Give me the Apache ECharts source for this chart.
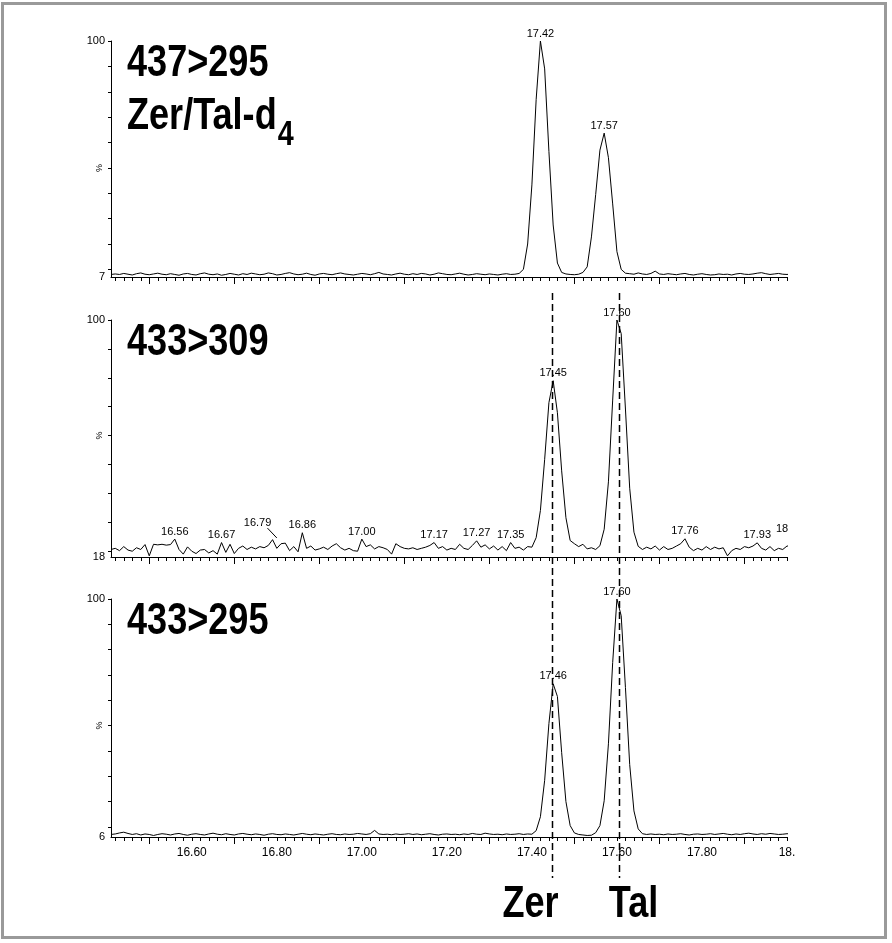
<!DOCTYPE html>
<html><head><meta charset="utf-8">
<script src="https://cdn.jsdelivr.net/npm/echarts@6/dist/echarts.min.js"></script>
<style>html,body{margin:0;padding:0;background:#fff}#c{width:892px;height:943px}</style>
</head><body><div id="c"></div>
<script>
// ---- retention-time grid (min) ----
const times = [16.41,
16.42,16.43,16.44,16.45,16.46,16.47,16.48,16.49,16.50,16.51,
16.52,16.53,16.54,16.55,16.56,16.57,16.58,16.59,16.60,16.61,
16.62,16.63,16.64,16.65,16.66,16.67,16.68,16.69,16.70,16.71,
16.72,16.73,16.74,16.75,16.76,16.77,16.78,16.79,16.80,16.81,
16.82,16.83,16.84,16.85,16.86,16.87,16.88,16.89,16.90,16.91,
16.92,16.93,16.94,16.95,16.96,16.97,16.98,16.99,17.00,17.01,
17.02,17.03,17.04,17.05,17.06,17.07,17.08,17.09,17.10,17.11,
17.12,17.13,17.14,17.15,17.16,17.17,17.18,17.19,17.20,17.21,
17.22,17.23,17.24,17.25,17.26,17.27,17.28,17.29,17.30,17.31,
17.32,17.33,17.34,17.35,17.36,17.37,17.38,17.39,17.40,17.41,
17.42,17.43,17.44,17.45,17.46,17.47,17.48,17.49,17.50,17.51,
17.52,17.53,17.54,17.55,17.56,17.57,17.58,17.59,17.60,17.61,
17.62,17.63,17.64,17.65,17.66,17.67,17.68,17.69,17.70,17.71,
17.72,17.73,17.74,17.75,17.76,17.77,17.78,17.79,17.80,17.81,
17.82,17.83,17.84,17.85,17.86,17.87,17.88,17.89,17.90,17.91,
17.92,17.93,17.94,17.95,17.96,17.97,17.98,17.99,18.00,18.01];

// ---- MRM 437>295 (Zer/Tal-d4), % ----
const trace437_295 = [8.0,
8.2,8.0,8.4,8.1,7.8,8.3,8.6,8.1,7.9,8.2,
8.5,8.1,7.9,8.3,8.0,7.7,8.2,8.4,8.0,7.8,
8.3,8.6,8.1,7.9,8.2,7.7,8.0,8.4,8.1,7.8,
8.3,8.0,8.5,8.2,7.9,8.1,8.6,8.3,7.8,8.0,
8.4,8.7,8.2,7.9,8.1,8.5,8.0,7.7,8.2,8.4,
8.1,7.9,8.3,8.6,8.2,8.0,7.8,8.1,8.4,8.2,
7.9,8.3,8.8,8.2,8.0,7.8,8.2,8.5,8.1,7.9,
8.3,8.0,8.4,8.2,7.8,8.1,8.6,8.3,8.0,7.9,
8.2,8.5,8.1,7.8,8.0,8.3,8.1,7.9,8.2,8.0,
7.8,8.1,8.3,8.0,8.1,8.4,10.0,20.0,43.3,77.0,
100,89.0,56.5,27.5,12.5,8.8,8.2,8.0,7.9,8.1,
8.8,11.0,22.8,39.5,57.0,63.7,54.0,35.8,17.0,10.0,
8.5,8.3,8.1,8.6,8.2,8.0,8.4,9.3,8.2,8.0,
8.3,8.1,7.9,8.2,8.4,8.0,7.8,8.1,8.3,8.0,
7.8,7.9,8.2,8.0,8.1,7.8,8.2,8.4,8.1,8.0,
8.2,8.5,8.7,8.3,8.0,8.2,8.4,8.1,8.0,8.2];

// ---- MRM 433>309, % ----
const trace433_309 = [20.6,
21.0,20.2,21.6,20.4,20.0,21.2,20.6,22.3,18.4,22.4,
22.2,22.4,22.1,22.3,24.2,20.6,19.0,21.5,20.0,19.2,
20.4,20.6,19.4,20.2,19.0,23.0,19.6,22.4,19.2,21.0,
21.8,20.6,21.4,20.8,21.6,21.2,22.0,24.0,21.0,22.6,
22.8,20.2,21.6,19.8,26.4,21.0,21.8,20.4,20.8,21.4,
20.6,21.8,22.6,21.2,20.4,21.0,20.2,20.0,24.2,21.6,
22.2,20.8,21.6,21.2,20.6,19.0,22.6,21.6,21.0,20.8,
21.2,20.6,21.0,21.4,22.0,23.0,21.0,21.6,20.4,21.0,
20.6,22.4,21.0,20.6,22.0,23.6,21.4,22.2,20.8,21.8,
20.4,21.6,20.2,23.0,21.0,21.4,20.4,21.6,21.4,24.7,
34.1,51.8,71.4,79.0,67.9,47.8,31.6,23.7,22.6,21.6,
22.4,20.8,21.2,20.6,21.9,27.6,44.0,72.3,100.0,95.3,
69.2,41.8,26.6,21.7,20.6,21.4,20.8,21.8,20.4,21.6,
20.6,21.0,21.8,22.6,24.3,21.4,20.2,21.0,20.4,21.6,
20.6,21.4,20.8,21.2,18.4,20.2,21.0,20.6,21.6,21.2,
21.8,22.9,21.0,20.4,21.6,20.2,21.0,20.6,21.8,21.8];

// ---- MRM 433>295, % ----
const trace433_295 = [7.0,
7.2,7.6,7.9,7.4,7.0,7.3,6.8,7.2,7.0,6.6,
7.0,7.3,7.1,6.8,7.2,7.4,7.0,6.7,7.1,7.3,
7.0,6.8,7.2,7.5,7.1,6.9,7.3,7.0,6.8,7.2,
7.4,7.1,6.9,7.2,7.0,6.7,7.1,7.3,7.0,6.9,
7.2,7.0,6.8,7.1,7.4,7.1,6.9,7.2,7.0,6.8,
7.1,7.3,7.0,6.9,7.2,7.0,7.1,7.4,7.2,7.0,
7.3,8.6,7.2,7.0,7.1,6.9,7.2,7.0,7.1,7.3,
7.0,7.2,6.9,7.1,7.3,7.0,6.8,7.1,7.2,7.0,
7.1,6.9,7.2,7.0,7.4,7.1,7.0,7.5,7.2,7.0,
7.1,6.9,7.2,7.0,7.1,7.3,7.0,7.2,7.1,8.5,
14.0,28.4,50.8,66.5,61.5,39.3,20.0,10.5,7.6,7.0,
6.8,6.6,6.7,7.7,10.5,20.3,42.8,74.9,100,93.4,
65.0,34.6,16.3,9.2,7.3,7.0,7.2,7.0,7.1,6.9,
7.2,7.0,7.1,7.3,7.0,6.8,7.1,7.2,7.0,7.1,
7.3,7.0,7.2,7.4,7.1,6.9,7.2,7.0,7.3,7.5,
7.2,7.0,7.3,7.1,7.4,7.2,7.0,7.1,7.3,7.2];

// ---- peak annotations [time, %, text] ----
const peaks437_295 = [[17.42,100,'17.42'],[17.57,63.7,'17.57']];
const peaks433_309 = [[16.56,24.2,'16.56'],[16.67,23.0,'16.67'],[16.79,24.0,'16.79'],[16.86,26.4,'16.86'],
  [17.00,24.2,'17.00'],[17.17,23.0,'17.17'],[17.27,23.6,'17.27'],[17.35,23.0,'17.35'],
  [17.45,79.0,'17.45'],[17.60,100,'17.60'],[17.76,24.3,'17.76'],[17.93,22.9,'17.93'],[18.00,21.8,'18']];
const peaks433_295 = [[17.45,66.5,'17.46'],[17.60,100,'17.60']];
const leader1679 = [[16.778,28.0],[16.80,24.6]];

// ---- axes ----
const xMin = 16.41, xMax = 18.00;
const xLabelValues = [16.6,16.8,17.0,17.2,17.4,17.6,17.8,18.0];
const xMajorTicks = [16.5,16.7,16.9,17.1,17.3,17.5,17.7,17.9];
const xMinorTicks = [16.42,16.44,16.46,16.48,16.50,16.52,16.54,16.56,16.58,16.60,
16.62,16.64,16.66,16.68,16.70,16.72,16.74,16.76,16.78,16.80,
16.82,16.84,16.86,16.88,16.90,16.92,16.94,16.96,16.98,17.00,
17.02,17.04,17.06,17.08,17.10,17.12,17.14,17.16,17.18,17.20,
17.22,17.24,17.26,17.28,17.30,17.32,17.34,17.36,17.38,17.40,
17.42,17.44,17.46,17.48,17.50,17.52,17.54,17.56,17.58,17.60,
17.62,17.64,17.66,17.68,17.70,17.72,17.74,17.76,17.78,17.80,
17.82,17.84,17.86,17.88,17.90,17.92,17.94,17.96,17.98,18.00];
const yMins = [7, 18, 6];
const yTicks = [[10,20,30,40,50,60,70,80,90,100],[20,30,40,50,60,70,80,90,100],[10,20,30,40,50,60,70,80,90,100]];
const yPercentAt = [50, 60, 50];
const panelTitles = ['437>295', '433>309', '433>295'];
const subTitleMain = 'Zer/Tal-d', subTitleSub = '4';
const markerTimes = [17.448, 17.605];
const markerNames = ['Zer', 'Tal'];

// ---- fonts ----
const BIG = '"Liberation Sans", Arial, sans-serif';
const SMALL = '"Liberation Sans", Arial, sans-serif';
const BIGSIZE = 44, SUBSIZE = 35, NARROW = 0.82;

const grids = [
  {left: 111, right: 105, top: 41, height: 236},
  {left: 111, right: 105, top: 320, height: 237},
  {left: 111, right: 105, top: 599, height: 238}
];
const traces = [trace437_295, trace433_309, trace433_295];
const peakSets = [peaks437_295, peaks433_309, peaks433_295];

const xAxes = [], yAxes = [], series = [];
grids.forEach((g, k) => {
  xAxes.push({
    gridIndex: k, type: 'value', min: xMin, max: xMax, position: 'bottom',
    axisLine: {show: true, onZero: false, lineStyle: {color: '#000', width: 1}},
    axisTick: {show: true, customValues: xMinorTicks, length: 4, lineStyle: {color: '#000', width: 1}},
    axisLabel: {show: k === 2, customValues: xLabelValues, color: '#000', fontSize: 12, fontFamily: SMALL, margin: 10,
      formatter: v => Math.abs(v - 18) < 1e-6 ? '18.' : v.toFixed(2)},
    splitLine: {show: false}
  });
  xAxes.push({
    gridIndex: k, type: 'value', min: xMin, max: xMax, position: 'bottom',
    axisLine: {show: false, onZero: false},
    axisTick: {show: true, customValues: xMajorTicks, length: 7, lineStyle: {color: '#000', width: 1}},
    axisLabel: {show: false},
    splitLine: {show: false}
  });
  yAxes.push({
    gridIndex: k, type: 'value', min: yMins[k], max: 100,
    axisLine: {show: true, lineStyle: {color: '#000', width: 1}},
    axisTick: {show: true, customValues: yTicks[k], length: 3, lineStyle: {color: '#000', width: 1}},
    axisLabel: {show: true, customValues: [yMins[k], 100], color: '#000', fontSize: 11, fontFamily: SMALL, margin: 6,
      formatter: v => String(v)},
    splitLine: {show: false}
  });
  const s = {
    type: 'line', xAxisIndex: 2 * k, yAxisIndex: k,
    data: times.map((t, i) => [t, traces[k][i]]),
    showSymbol: false, symbol: 'none', clip: true, animation: false, silent: true,
    lineStyle: {color: '#000', width: 1},
    markPoint: {
      symbol: 'circle', symbolSize: 0, silent: true, animation: false,
      itemStyle: {color: 'rgba(0,0,0,0)'},
      label: {show: true, position: 'top', distance: 2, color: '#000', fontSize: 11, fontFamily: SMALL,
        formatter: p => p.name},
      data: peakSets[k].map(p => {
        const d = {name: p[2], coord: [p[0], p[1]]};
        if (p[2] === '16.79') d.label = {offset: [-15, -9]};
        if (p[2] === '18') d.label = {offset: [-5, -10]};
        return d;
      })
    }
  };
  if (k === 1) {
    s.markLine = {
      silent: true, symbol: ['none', 'none'], animation: false,
      label: {show: false},
      lineStyle: {color: '#000', width: 1, type: 'solid'},
      data: [[{coord: leader1679[0]}, {coord: leader1679[1]}]]
    };
  }
  series.push(s);
});

const chart = echarts.init(document.getElementById('c'), null, {width: 892, height: 943});
chart.setOption({
  animation: false,
  backgroundColor: '#fff',
  grid: grids,
  xAxis: xAxes,
  yAxis: yAxes,
  series: series
});

// ---- annotations placed through the chart's own scales ----
const bigFont = 'bold ' + BIGSIZE + 'px ' + BIG;
function bigText(text, x, y, align, size) {
  return {type: 'text', x: x, y: y, scaleX: NARROW, scaleY: 1, z: 50,
    style: {text: text, font: 'bold ' + (size || BIGSIZE) + 'px ' + BIG, fill: '#000', textAlign: align, textVerticalAlign: 'middle'}};
}
const gfx = [];
gfx.push({type: 'rect', shape: {x: 2.5, y: 3.5, width: 883, height: 934}, style: {fill: 'none', stroke: '#9a9a9a', lineWidth: 3}, z: 100});
const axisX = chart.convertToPixel({xAxisIndex: 0}, xMin);
grids.forEach((g, k) => {
  const yTitle = chart.convertToPixel({yAxisIndex: k}, 100);
  gfx.push(bigText(panelTitles[k], axisX + 16, yTitle + 23, 'left'));
  const yp = chart.convertToPixel({yAxisIndex: k}, yPercentAt[k]);
  gfx.push({type: 'text', x: axisX - 13, y: yp, rotation: -Math.PI / 2, z: 50,
    style: {text: '%', font: '9px ' + SMALL, fill: '#000', textAlign: 'center', textVerticalAlign: 'middle'}});
});
// subtitle with subscript
const meas = document.createElement('canvas').getContext('2d');
meas.font = bigFont;
const wSub = meas.measureText(subTitleMain).width * NARROW;
const y0 = chart.convertToPixel({yAxisIndex: 0}, 100);
gfx.push(bigText(subTitleMain, axisX + 16, y0 + 76, 'left'));
gfx.push(bigText(subTitleSub, axisX + 16 + wSub + 1, y0 + 94, 'left', SUBSIZE));
// dashed retention-time markers
const yTop = chart.convertToPixel({yAxisIndex: 1}, 100) - 27;
const yBot = chart.convertToPixel({yAxisIndex: 2}, yMins[2]) + 41;
const nameShift = [-22, 14];
markerTimes.forEach((t, i) => {
  const x = Math.round(chart.convertToPixel({xAxisIndex: 4}, t)) + 0.5;
  gfx.push({type: 'line', shape: {x1: x, y1: yTop, x2: x, y2: yBot}, style: {stroke: '#000', lineWidth: 1.5, lineDash: [7, 4]}, z: 60});
  gfx.push(bigText(markerNames[i], x + nameShift[i], yBot + 27, 'center'));
});
chart.setOption({graphic: gfx});
</script>
</body></html>
